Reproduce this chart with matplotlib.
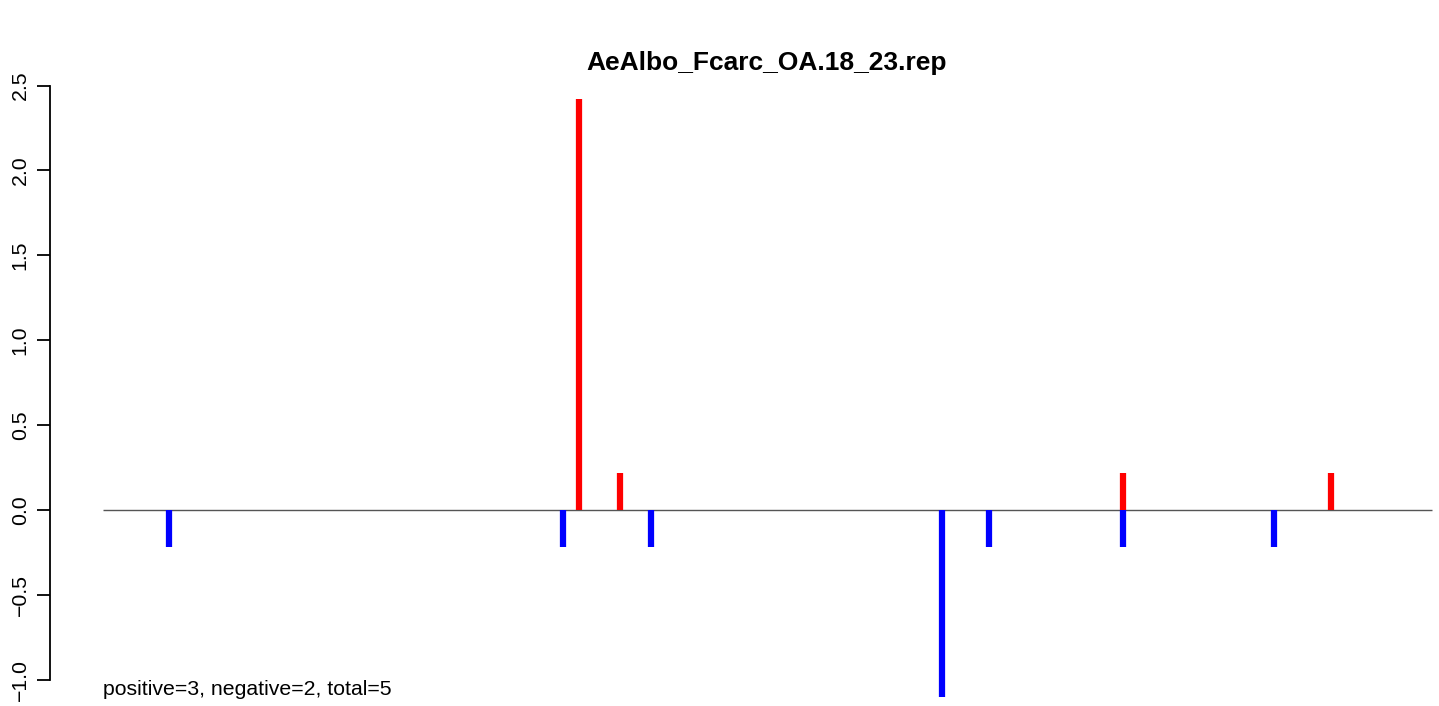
import matplotlib
matplotlib.use("Agg")
import matplotlib.pyplot as plt

plt.rcParams['font.family'] = ['Liberation Sans', 'DejaVu Sans']

title = "AeAlbo_Fcarc_OA.18_23.rep"
summary = "positive=3, negative=2, total=5"

# positions along the sequence and scores
neg_pos = [169, 563, 651, 942, 989, 1123, 1274]
neg_val = [-0.22, -0.22, -0.22, -1.10, -0.22, -0.22, -0.22]
pos_pos = [579, 620, 1123, 1331]
pos_val = [2.42, 0.22, 0.22, 0.22]
line_start, line_end = 103, 1432

yticks = [-1.0, -0.5, 0.0, 0.5, 1.0, 1.5, 2.0, 2.5]

fig = plt.figure(figsize=(14.39, 7.06), dpi=100)
ax = fig.add_axes([50 / 1439, 6 / 706, 1 - 50 / 1439, 625 / 706])

ax.hlines(0, line_start, line_end, color="#555555", lw=1.0, zorder=1)
ax.vlines(neg_pos, 0, neg_val, color="blue", lw=4.5, zorder=2)
ax.vlines(pos_pos, 0, pos_val, color="red", lw=4.5, zorder=3)

ax.set_xlim(50, 1439)
ax.set_ylim(-1.119, 2.562)

for s in ["top", "right", "bottom"]:
    ax.spines[s].set_visible(False)
ax.spines["left"].set_bounds(-1.0, 2.5)
ax.spines["left"].set_linewidth(1.3)
ax.set_xticks([])
ax.set_yticks(yticks)
ax.set_yticklabels(["\u22121.0", "\u22120.5", "0.0", "0.5", "1.0", "1.5", "2.0", "2.5"],
                   rotation=90, va="center", fontsize=15.3)
ax.tick_params(axis="y", length=9.5, width=1.3, pad=5)

fig.text(767 / 1439, 1 - 63 / 706, title, ha="center", va="center",
         fontsize=19, fontweight="bold")
ax.text(line_start, -1.06, summary, ha="left", va="center", fontsize=15.3)

fig.savefig("out.png", dpi=100)
